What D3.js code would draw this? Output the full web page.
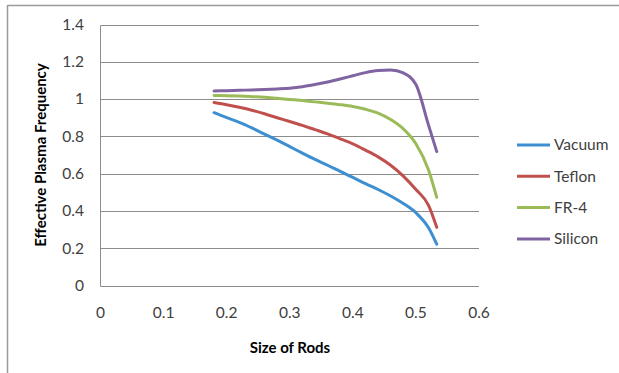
<!DOCTYPE html>
<html><head><meta charset="utf-8">
<script src="https://cdn.jsdelivr.net/npm/d3@7"></script>
<style>body{margin:0;background:#fff}svg{display:block}text{font-family:Lato,"Open Sans",sans-serif}</style>
</head><body>
<svg id="c" width="619" height="373"></svg>
<script>
const sizes = [0.18,0.2,0.22,0.24,0.26,0.28,0.30,0.32,0.34,0.36,0.38,0.40,0.42,0.44,0.46,0.48,0.50,0.52,0.533];
const vacuum = [0.927,0.90,0.875,0.845,0.812,0.78,0.745,0.71,0.676,0.645,0.612,0.58,0.546,0.515,0.48,0.44,0.39,0.31,0.222];
const teflon = [0.982,0.97,0.956,0.94,0.921,0.90,0.88,0.859,0.836,0.813,0.787,0.76,0.726,0.69,0.645,0.587,0.515,0.43,0.312];
const fr4 = [1.019,1.018,1.016,1.013,1.01,1.004,0.998,0.992,0.985,0.978,0.97,0.96,0.945,0.925,0.89,0.84,0.76,0.62,0.473];
const silicon = [1.043,1.045,1.047,1.049,1.051,1.054,1.058,1.066,1.078,1.092,1.108,1.125,1.142,1.153,1.156,1.14,1.078,0.86,0.718];
const seriesNames = ["Vacuum","Teflon","FR-4","Silicon"];
const seriesColors = ["#3d8fd1","#c0504d","#9bbb59","#8064a2"];
const xTicks = [0,0.1,0.2,0.3,0.4,0.5,0.6];
const yTicks = [0,0.2,0.4,0.6,0.8,1,1.2,1.4];
const xTitle = "Size of Rods";
const yTitle = "Effective Plasma Frequency";

const series = [vacuum,teflon,fr4,silicon].map((v,i)=>({name:seriesNames[i],color:seriesColors[i],pts:sizes.map((s,j)=>[s,v[j]])}));

const svg = d3.select("#c");
svg.append("line").attr("x1",7.5).attr("x2",619).attr("y1",5.5).attr("y2",5.5).attr("stroke","#9a9a9a").attr("stroke-width",1.5);
svg.append("line").attr("x1",7.5).attr("x2",7.5).attr("y1",5).attr("y2",373).attr("stroke","#9a9a9a").attr("stroke-width",1.5);

const x = d3.scaleLinear().domain([0,0.6]).range([100.5,479]);
const y = d3.scaleLinear().domain([0,1.4]).range([285.5,24.5]);

svg.append("g").selectAll("line").data(yTicks).join("line")
  .attr("x1",x(0)).attr("x2",x(0.6))
  .attr("y1",d=>Math.round(y(d))+0.5).attr("y2",d=>Math.round(y(d))+0.5)
  .attr("stroke","#8c8c8c").attr("stroke-width",1);
svg.append("line").attr("x1",100.5).attr("x2",100.5).attr("y1",Math.round(y(1.4))+0.5).attr("y2",Math.round(y(0))+0.5).attr("stroke","#8c8c8c");

svg.append("g").selectAll("text").data(yTicks).join("text")
  .attr("x",84).attr("y",d=>y(d)).attr("dy","0.35em").attr("text-anchor","end")
  .attr("font-size",15.5).attr("fill","#404040").text(d=>d3.format("")(d));
svg.append("g").selectAll("text").data(xTicks).join("text")
  .attr("x",d=>x(d)).attr("y",313).attr("dy","0.35em").attr("text-anchor","middle")
  .attr("font-size",15.5).attr("fill","#404040").text(d=>d3.format("")(d));

svg.append("text").attr("x",290).attr("y",348).attr("dy","0.35em").attr("text-anchor","middle")
  .attr("font-size",15).attr("font-weight","bold").attr("fill","#000").text(xTitle);
svg.append("text").attr("transform","translate(41,155) rotate(-90)").attr("dy","0.35em").attr("text-anchor","middle")
  .attr("font-size",15).attr("font-weight","bold").attr("fill","#000").text(yTitle);

const line = d3.line().x(d=>x(d[0])).y(d=>y(d[1])).curve(d3.curveMonotoneX);
svg.append("g").selectAll("path").data(series).join("path")
  .attr("d",d=>line(d.pts)).attr("fill","none").attr("stroke",d=>d.color)
  .attr("stroke-width",3).attr("stroke-linejoin","round").attr("stroke-linecap","round");

const lg = svg.append("g").selectAll("g").data(series).join("g")
  .attr("transform",(d,i)=>`translate(517,${145+i*31.3})`);
lg.append("line").attr("x1",0).attr("x2",33).attr("stroke",d=>d.color).attr("stroke-width",3);
lg.append("text").attr("x",37).attr("dy","0.35em").attr("font-size",15.5).attr("fill","#404040").text(d=>d.name);
</script>
</body></html>
